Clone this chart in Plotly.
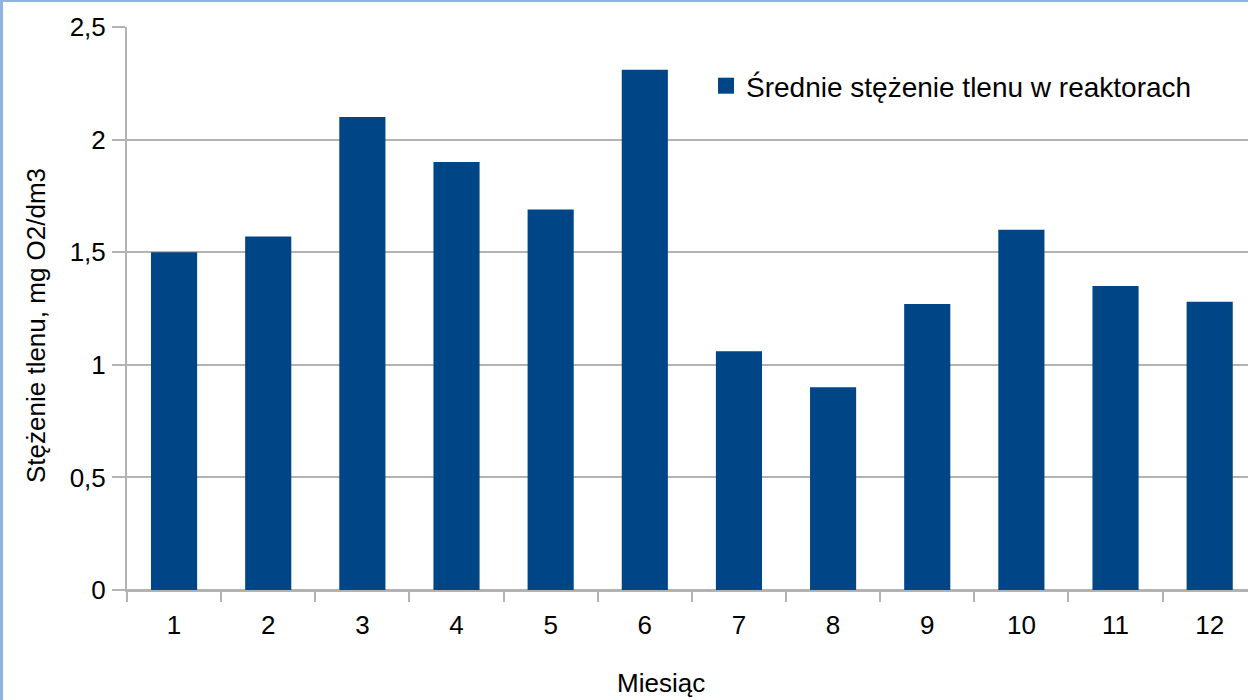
import plotly.graph_objects as go

months = ["1", "2", "3", "4", "5", "6", "7", "8", "9", "10", "11", "12"]
oxygen = [1.5, 1.57, 2.1, 1.9, 1.69, 2.31, 1.06, 0.9, 1.27, 1.6, 1.35, 1.28]
series_name = "Średnie stężenie tlenu w reaktorach"
x_title = "Miesiąc"
y_title = "Stężenie tlenu, mg O2/dm3"

W, H = 1248, 700
L, R, T, B = 127, 0, 27, 110
PW, PH = W - L - R, H - T - B
BAR = "#004586"
GRID = "#b3b3b3"
FONT = "Liberation Sans, Arial, sans-serif"


def px_x(p):
    return (p - L) / PW


def px_y(p):
    return (H - B - p) / PH


fig = go.Figure()
fig.add_trace(go.Bar(x=months, y=oxygen, marker=dict(color=BAR, line=dict(width=0)),
                     showlegend=False, name=series_name))
fig.add_trace(go.Scatter(x=[None], y=[None], mode="markers", name=series_name,
                         marker=dict(symbol="square", size=18, color=BAR)))

fig.update_layout(
    width=W, height=H,
    margin=dict(l=L, r=R, t=T, b=B, pad=0),
    paper_bgcolor="white", plot_bgcolor="white",
    separators=", ",
    font=dict(family=FONT, size=26, color="black"),
    bargap=0.51,
    showlegend=True,
    legend=dict(x=px_x(706), y=px_y(61), xanchor="left", yanchor="top",
                bgcolor="rgba(0,0,0,0)", font=dict(size=28, color="black"),
                itemsizing="trace"),
    xaxis=dict(type="category", range=[-0.5, 11.407], showgrid=False,
               showline=True, linecolor=GRID, linewidth=2,
               ticks="outside", tickson="boundaries", ticklen=10, tickcolor=GRID,
               tickwidth=2, tickfont=dict(size=26, color="black"),
               ticklabelstandoff=11, zeroline=False, fixedrange=True),
    yaxis=dict(range=[0, 2.5], dtick=0.5, showgrid=True, gridcolor=GRID, gridwidth=2,
               showline=True, linecolor=GRID, linewidth=2,
               ticks="outside", ticklen=13, tickcolor=GRID, tickwidth=2,
               tickfont=dict(size=26, color="black"), ticklabelstandoff=1,
               zeroline=True, zerolinecolor=GRID, zerolinewidth=2, fixedrange=True),
    annotations=[
        dict(text=x_title, xref="paper", yref="paper", x=px_x(661), y=px_y(683),
             xanchor="center", yanchor="middle", showarrow=False,
             font=dict(size=26, color="black")),
        dict(text=y_title, xref="paper", yref="paper", x=px_x(36), y=px_y(326),
             xanchor="center", yanchor="middle", showarrow=False, textangle=-90,
             font=dict(size=26, color="black")),
    ],
    shapes=[
        dict(type="rect", xref="paper", yref="paper", x0=px_x(0), x1=px_x(3),
             y0=px_y(700), y1=px_y(0), fillcolor="#8db4e2", line=dict(width=0), layer="above"),
        dict(type="rect", xref="paper", yref="paper", x0=px_x(0), x1=px_x(1248),
             y0=px_y(2), y1=px_y(0), fillcolor="#8db4e2", line=dict(width=0), layer="above"),
    ],
)

fig.write_html("out.html", config={"displayModeBar": False})
